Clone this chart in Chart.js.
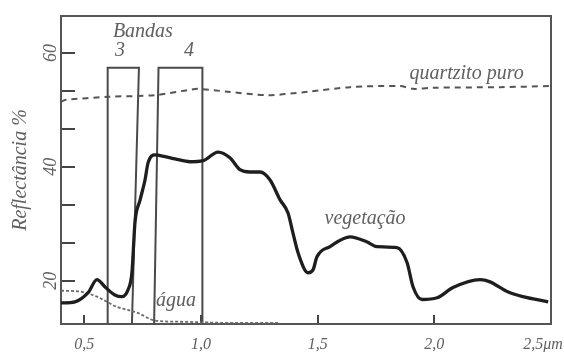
<!DOCTYPE html>
<html>
<head>
<meta charset="utf-8">
<script src="https://cdn.jsdelivr.net/npm/chart.js@4.4.1/dist/chart.umd.min.js"></script>
<style>
html,body{margin:0;padding:0;background:#fff;}
#wrap{width:564px;height:352px;}
</style>
</head>
<body>
<div id="wrap"><canvas id="c" width="564" height="352"></canvas></div>
<script>
// ---- data (wavelength in µm, reflectance in %) ----
const vegX = [0.40,0.46,0.516,0.554,0.589,0.631,0.661,0.687,0.704,0.717,0.739,0.76,0.773,0.803,0.846,0.889,0.953,1.009,1.073,1.124,1.167,1.21,1.253,1.296,1.339,1.373,1.394,1.416,1.459,1.48,1.497,1.553,1.639,1.712,1.754,1.84,1.883,1.909,1.947,2.012,2.08,2.196,2.239,2.312,2.38,2.488];
const vegY = [16.1,16.3,17.9,20.2,18.9,17.5,17.2,18.4,21.4,30.2,34.2,37.7,40.7,42.1,41.8,41.4,40.9,41.1,42.6,41.6,39.5,39.1,39.1,37.7,34.2,31.9,28.4,24.9,21.4,21.9,24.2,26.0,27.7,26.8,26.0,25.8,23.2,18.9,16.7,17.0,18.8,20.2,19.8,18.1,17.2,16.3];

const quartzX = [0.40,0.417,0.601,0.803,0.944,0.987,1.116,1.287,1.459,1.639,1.853,1.909,1.994,2.282,2.50];
const quartzY = [51.4,51.75,52.3,52.6,53.5,53.7,53.2,52.6,53.2,54.0,54.2,53.7,53.9,54.0,54.2];

const waterX = [0.40,0.481,0.554,0.64,0.726,0.803,0.91,1.124,1.339];
const waterY = [18.25,18.1,17.2,15.4,14.4,13.0,12.8,12.6,12.6];

// band outlines (x at bottom-left, top-left, top-right, bottom-right)
const band3X = [0.598,0.600,0.734,0.704];
const band4X = [0.799,0.818,1.006,1.006];
const bandTop = 57.4;

const xTickValues = [0.5,1.0,1.5,2.0,2.5];
const xTickLabels = ['0,5','1,0','1,5','2,0','2,5μm'];
const yTickValues = [20,26.667,33.333,40,46.667,53.333,60];
const yTickLabels = ['20','','','40','','','60'];

const X_MIN = 0.4, X_MAX = 2.5, Y_MIN = 12.4, Y_MAX = 66.5;

// text labels placed in data coordinates
const notes = [
  {text:'Bandas', x:0.751, y:63.7},
  {text:'3', x:0.653, y:60.4},
  {text:'4', x:0.949, y:60.4},
  {text:'quartzito puro', x:2.138, y:56.3},
  {text:'vegetação', x:1.703, y:30.9},
  {text:'água', x:0.893, y:16.5}
];

// ---- build ----
const pts = (xs, ys) => xs.map((x,i)=>({x, y:ys[i]}));
const bandPts = (xs) => [{x:xs[0],y:Y_MIN},{x:xs[1],y:bandTop},{x:xs[2],y:bandTop},{x:xs[3],y:Y_MIN}];

const SERIF = "'Liberation Serif','DejaVu Serif',serif";
const TXT = '#606060';

const framePlugin = {
  id:'frame',
  beforeDatasetsDraw(chart){
    const {ctx, chartArea:a} = chart;
    ctx.save();
    ctx.strokeStyle = '#555';
    ctx.lineWidth = 2;
    ctx.strokeRect(a.left, a.top, a.right-a.left, a.bottom-a.top);
    ctx.restore();
  }
};

const notesPlugin = {
  id:'notes',
  afterDatasetsDraw(chart){
    const {ctx, scales:{x, y}} = chart;
    ctx.save();
    ctx.fillStyle = TXT;
    ctx.font = "italic 20px " + SERIF;
    ctx.textAlign = 'center';
    ctx.textBaseline = 'middle';
    notes.forEach(n => ctx.fillText(n.text, x.getPixelForValue(n.x), y.getPixelForValue(n.y)));
    ctx.restore();
  }
};

const near = (a,b) => Math.abs(a-b) < 1e-3;

new Chart(document.getElementById('c'), {
  type:'scatter',
  data:{
    datasets:[
      {label:'vegetação', data:pts(vegX,vegY), showLine:true, borderColor:'#1e1e1e', borderWidth:3.3, pointRadius:0, cubicInterpolationMode:'monotone', fill:false},
      {label:'água', data:pts(waterX,waterY), showLine:true, borderColor:'#6a6a6a', borderWidth:1.8, borderDash:[3,2], pointRadius:0, cubicInterpolationMode:'monotone', fill:false},
      {label:'quartzito puro', data:pts(quartzX,quartzY), showLine:true, borderColor:'#555', borderWidth:2, borderDash:[6,5], pointRadius:0, tension:0.3, fill:false},
      {label:'Banda 3', data:bandPts(band3X), showLine:true, borderColor:'#4a4a4a', borderWidth:2, pointRadius:0, tension:0, fill:false},
      {label:'Banda 4', data:bandPts(band4X), showLine:true, borderColor:'#4a4a4a', borderWidth:2, pointRadius:0, tension:0, fill:false}
    ]
  },
  options:{
    responsive:false,
    animation:false,
    events:[],
    layout:{padding:{left:0, top:16, right:13, bottom:0}},
    plugins:{legend:{display:false}, tooltip:{enabled:false}},
    scales:{
      x:{
        type:'linear', min:X_MIN, max:X_MAX,
        afterBuildTicks(s){ s.ticks = xTickValues.map(v=>({value:v})); },
        afterFit(s){ s.height = 28; s.paddingLeft = 0; s.paddingRight = 0; },
        border:{display:false},
        grid:{drawOnChartArea:false, drawTicks:true, tickLength:-9, color:'#444', lineWidth:2},
        ticks:{
          color:TXT, padding:20, maxRotation:0, minRotation:0, autoSkip:false,
          font:{family:SERIF, style:'italic', size:16},
          callback(v){
            const i = xTickValues.findIndex(t=>near(t,v));
            if (i < 0) return '';
            return i === xTickValues.length-1 ? xTickLabels[i] + '\u2002\u2002' : xTickLabels[i];
          }
        }
      },
      y:{
        type:'linear', min:Y_MIN, max:Y_MAX,
        afterBuildTicks(s){ s.ticks = yTickValues.map(v=>({value:v})); },
        afterFit(s){ s.width = 61; s.paddingTop = 0; s.paddingBottom = 0; },
        border:{display:false},
        grid:{drawOnChartArea:false, drawTicks:true, tickLength:-14, color:'#444', lineWidth:2},
        ticks:{
          color:TXT, padding:15, minRotation:90, maxRotation:90, crossAlign:'center', autoSkip:false,
          font:{family:SERIF, style:'italic', size:18},
          callback(v){
            const i = yTickValues.findIndex(t=>near(t,v));
            return i < 0 ? '' : yTickLabels[i];
          }
        },
        title:{display:true, text:'Reflectância %', color:TXT, padding:{top:9, bottom:0},
          font:{family:SERIF, style:'italic', size:20}}
      }
    }
  },
  plugins:[framePlugin, notesPlugin]
});
</script>
</body>
</html>
